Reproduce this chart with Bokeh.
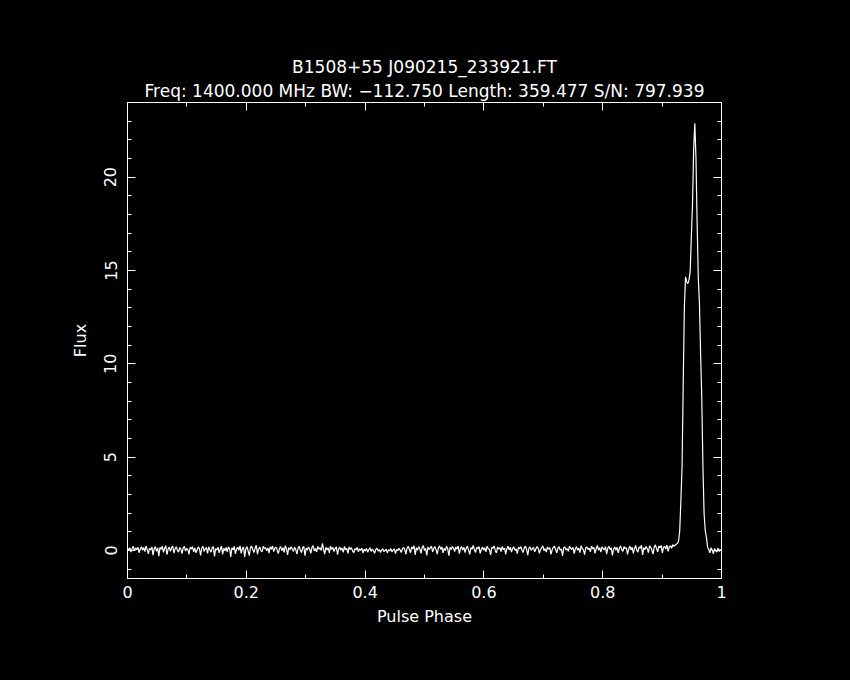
from bokeh.plotting import figure
from bokeh.models import (Range1d, LinearAxis, SingleIntervalTicker, Title,
                          CustomJSTickFormatter, ColumnDataSource)
from bokeh.embed import file_html
from bokeh.resources import INLINE
import numpy as np

# ---------------- data ----------------
title_line1 = "B1508+55 J090215_233921.FT"
title_line2 = "Freq: 1400.000 MHz BW: \u2212112.750 Length: 359.477 S/N: 797.939"
x_label = "Pulse Phase"
y_label = "Flux"

baseline_noise = [
    0.12, 0.02, 0.15, -0.08, 0.10, 0.22, -0.02, 0.14, 0.04, 0.18, -0.12, 0.08, 0.20, 0.01, 0.16, -0.06, 0.24, 0.05, -0.18, 0.12, 0.03, 0.19, -0.25, 0.10,
    0.21, -0.05, 0.14, -0.30, 0.17, 0.06, 0.23, -0.10, 0.12, 0.26, -0.22, 0.08, 0.18, -0.04, 0.15, 0.24, -0.14, 0.09, 0.20, 0.02, -0.09, 0.16, 0.07, -0.17,
    0.13, 0.22, -0.03, 0.11, 0.05, -0.20, 0.17, 0.08, 0.21, -0.07, 0.14, -0.12, 0.03, 0.19, 0.10, -0.26, 0.12, 0.23, -0.05, 0.09, 0.16, -0.15, 0.20, 0.04,
    -0.09, 0.15, 0.21, -0.32, 0.10, 0.02, 0.18, -0.13, 0.07, 0.24, -0.21, 0.12, -0.01, 0.16, -0.08, 0.20, 0.09, -0.35, 0.14, 0.04, 0.22, -0.18, 0.08, 0.17,
    0.01, 0.25, -0.15, 0.12, 0.18, -0.34, 0.09, 0.21, -0.03, -0.27, 0.16, 0.23, 0.05, -0.11, 0.13, 0.28, -0.20, 0.07, 0.19, 0.00, -0.08, 0.22, 0.11, 0.15,
    -0.02, 0.14, -0.14, 0.20, 0.06, 0.24, -0.06, 0.12, 0.18, 0.03, -0.17, 0.09, 0.22, -0.01, 0.15, -0.10, 0.26, 0.10, -0.24, 0.16, 0.04, 0.20, 0.08, -0.05,
    0.18, 0.05, -0.19, 0.12, 0.23, 0.01, -0.11, 0.16, 0.21, -0.28, 0.13, 0.02, 0.19, 0.08, -0.15, 0.17, 0.26, -0.02, 0.11, -0.08, 0.22, 0.06, 0.15, 0.00,
    0.38, 0.08, -0.20, 0.17, 0.03, 0.14, -0.13, 0.23, 0.06, 0.16, -0.06, 0.11, 0.20, -0.22, 0.09, 0.18, 0.01, 0.13, -0.10, 0.21, 0.04, 0.12, -0.16, 0.19,
    0.06, 0.15, -0.02, -0.12, 0.10, 0.03, 0.17, -0.07, 0.09, 0.01, 0.13, -0.14, 0.07, -0.03, 0.11, -0.09, 0.04, 0.15, -0.05, 0.08, 0.00, -0.15, 0.06, 0.12,
    -0.03, 0.05, -0.10, 0.02, 0.09, -0.06, 0.00, 0.07, -0.13, 0.04, -0.02, 0.10, -0.08, 0.03, 0.09, -0.17, 0.06, -0.01, 0.12, 0.02, -0.10, 0.10, 0.16, 0.04,
    -0.20, 0.13, 0.22, 0.05, -0.12, 0.19, 0.09, 0.25, -0.24, 0.15, 0.02, 0.21, 0.08, -0.15, 0.17, 0.26, 0.00, 0.11, -0.26, 0.19, 0.05, 0.14, 0.23, -0.08,
    0.13, 0.21, 0.03, -0.19, 0.15, 0.25, 0.06, 0.19, -0.13, 0.12, 0.00, 0.23, 0.09, -0.28, 0.17, 0.05, 0.21, 0.12, -0.06, 0.19, 0.07, 0.24, -0.17, 0.10,
    0.21, 0.02, 0.17, -0.11, 0.13, 0.23, 0.01, -0.21, 0.15, 0.07, 0.27, 0.03, -0.10, 0.17, 0.09, 0.21, -0.15, 0.07, 0.19, 0.01, 0.15, -0.07, 0.23, 0.09,
    0.05, -0.23, 0.17, 0.12, 0.25, -0.01, -0.13, 0.19, 0.07, 0.15, -0.06, 0.21, 0.05, 0.13, -0.19, 0.10, 0.23, 0.03, 0.17, -0.09, 0.13, 0.19, 0.01, 0.08,
    -0.17, 0.17, 0.09, 0.21, 0.03, -0.11, 0.15, 0.23, 0.05, -0.25, 0.13, 0.19, 0.01, 0.10, 0.17, -0.07, 0.08, 0.21, 0.12, -0.15, 0.05, 0.15, 0.25, -0.01,
    0.10, -0.09, 0.19, 0.07, 0.15, -0.21, 0.03, 0.17, 0.23, 0.05, -0.13, 0.13, 0.21, 0.01, 0.08, -0.29, 0.15, 0.19, 0.03, 0.10, -0.05, 0.23, 0.12, 0.05,
    0.17, -0.17, 0.08, 0.21, 0.01, 0.13, -0.11, 0.25, 0.10, 0.03, -0.22, 0.15, 0.19, 0.05, 0.13, -0.07, 0.23, 0.08, 0.17, -0.15, 0.10, 0.27, 0.01, 0.15,
    -0.09, 0.19, 0.10, 0.03, 0.21, -0.19, 0.13, 0.23, 0.05, 0.15, -0.26, 0.08, 0.19, 0.01, 0.17, -0.13, 0.13, 0.25, 0.05, -0.05, 0.21, 0.10, 0.15, -0.21,
    0.08, 0.23, 0.03, 0.17, -0.15, 0.10, 0.27, 0.01, -0.09, 0.19, 0.12, 0.29, -0.24, 0.15, 0.05, 0.21, 0.10, -0.11, 0.25, 0.17, 0.03, -0.19, 0.19, 0.30,
    0.10, -0.07, 0.23, 0.15, 0.27, -0.13, 0.17, 0.21, 0.08, 0.29, -0.05, 0.19, 0.25, 0.12, 0.31, 0.22,
]
pre_rise = [0.28, 0.33, 0.38]
pulse = [0.50, 1.07, 2.68, 4.47, 8.94, 13.05, 14.66, 14.40, 14.30, 14.50, 14.93,
         16.81, 18.50, 21.50, 22.89, 21.00, 17.50, 14.60, 13.20, 10.50, 8.14,
         4.47, 1.97, 1.07, 0.71, 0.18]
tail = [0.05, -0.12, 0.14, 0.02, -0.18, 0.10, -0.02, -0.09, 0.13, -0.05, 0.08]

flux = baseline_noise + pre_rise + pulse + tail
n_bins = len(flux)
phase = list(np.arange(n_bins) / n_bins)

x_range = (0.0, 1.0)
y_range = (-1.5, 24.0)

# ---------------- figure ----------------
FONT = "DejaVu Sans"
WHITE = "#ffffff"

p = figure(width=834, height=664, output_backend="svg", toolbar_location=None,
           x_range=Range1d(*x_range), y_range=Range1d(*y_range),
           x_axis_type=None, y_axis_type=None,
           min_border_left=127, min_border_right=113,
           min_border_top=102, min_border_bottom=86)
p.background_fill_color = "black"
p.border_fill_color = "black"
p.outline_line_color = WHITE
p.outline_line_width = 1
p.xgrid.visible = False
p.ygrid.visible = False

def style_axis(ax, show_labels):
    ax.axis_line_color = WHITE
    ax.axis_line_width = 1
    ax.major_tick_line_color = WHITE
    ax.minor_tick_line_color = WHITE
    ax.major_tick_in = 8
    ax.major_tick_out = 0
    ax.minor_tick_in = 4
    ax.minor_tick_out = 0
    ax.major_label_text_color = WHITE
    ax.major_label_text_font = FONT
    ax.major_label_text_font_size = "16px"
    ax.axis_label_text_color = WHITE
    ax.axis_label_text_font = FONT
    ax.axis_label_text_font_size = "16px"
    ax.axis_label_text_font_style = "normal"
    if not show_labels:
        ax.formatter = CustomJSTickFormatter(code="return '';")
        ax.major_label_standoff = 0

def xt():
    return SingleIntervalTicker(interval=0.2, num_minor_ticks=2)

def yt():
    return SingleIntervalTicker(interval=5, num_minor_ticks=5)

xb = LinearAxis(ticker=xt(), axis_label=x_label)
style_axis(xb, True)
xb.major_label_standoff = 7
xb.axis_label_standoff = 6
p.add_layout(xb, "below")

yl = LinearAxis(ticker=yt(), axis_label=y_label)
style_axis(yl, True)
yl.major_label_orientation = "vertical"
yl.major_label_standoff = 11
yl.axis_label_standoff = 12
p.add_layout(yl, "left")

xa = LinearAxis(ticker=xt())
style_axis(xa, False)
p.add_layout(xa, "above")

yr = LinearAxis(ticker=yt())
style_axis(yr, False)
p.add_layout(yr, "right")

src = ColumnDataSource(data=dict(phase=phase, flux=flux))
p.line("phase", "flux", source=src, line_color=WHITE, line_width=1.2)

# two-line title above the frame (first added sits nearest the frame)
t2 = Title(text=title_line2, align="center", text_color=WHITE, text_font=FONT,
           text_font_size="17px", text_font_style="normal", standoff=4)
t1 = Title(text=title_line1, align="center", text_color=WHITE, text_font=FONT,
           text_font_size="17px", text_font_style="normal", standoff=0)
p.add_layout(t2, "above")
p.add_layout(t1, "above")

html = file_html(p, INLINE)
html = html.replace("</head>", "<style>html,body{background:#000000;}</style></head>", 1)
open("out.html", "w").write(html)
